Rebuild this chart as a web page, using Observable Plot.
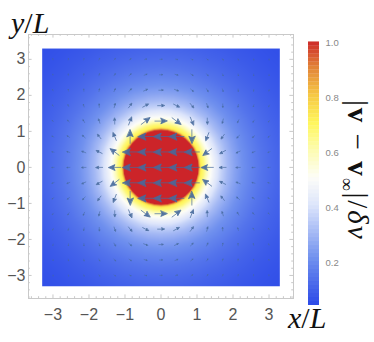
<!DOCTYPE html>
<html><head><meta charset="utf-8">
<script src="https://cdn.jsdelivr.net/npm/d3@7"></script>
<script src="https://cdn.jsdelivr.net/npm/@observablehq/plot@0.6"></script>
<style>
html,body{margin:0;padding:0;background:#fff}
#c{position:relative;width:374px;height:342px;overflow:hidden}
#c>svg,#c>div{position:absolute}
.m{font-family:"Liberation Serif",serif;font-style:italic;color:#111;white-space:nowrap;line-height:1}
.m span{font-style:normal;font-weight:normal}
.m b{font-style:normal;font-weight:bold}
.m sub{font-size:62%;font-style:normal;line-height:0}
</style></head><body><div id="c"></div>
<script>
// colour ramp
const rampLevels=[0.044,0.2,0.4,0.5,0.6,0.7,0.8,0.9,1];
const rampColors=["#2f4de8","#6d8eee","#dde5fb","#fdfdf8","#fdfcb0","#fff65c","#f6c844","#e28438","#cc2429"];
// radial samples of the heat field
const ringR=[0,0.6,1.0,1.03,1.055,1.08,1.11,1.2,1.26,1.34,1.44,1.56,1.7,1.85,2.05,2.25,2.5,2.8,3.1,3.4,3.8,4.2,4.8];
const ringLevel=[1,1,1,1,0.9,0.8,0.72,0.66,0.6,0.53,0.47,0.41,0.35,0.3,0.25,0.21,0.175,0.14,0.115,0.095,0.075,0.06,0.046];
const ringAngle=[0,10,20,30,40,50,60,70,80,90,100,110,120,130,140,150,160,170,180,190,200,210,220,230,240,250,260,270,280,290,300,310,320,330,340,350];
// arrow field, quadrant x>=0,y>=0, rows j=0..7, columns i=0..7
const arrowGrid=[0,0.4286,0.8571,1.2857,1.7143,2.1429,2.5714,3];
const arrowU=[
[-1,-1,-1,-.81,-.45,-.29,-.20,-.15],
[-1,-1,-1,-.58,-.38,-.26,-.19,-.14],
[-1,-1,0,-.21,-.22,-.18,-.15,-.12],
[.81,.58,.21,0,-.08,-.10,-.10,-.09],
[.45,.38,.22,.08,0,-.04,-.05,-.06],
[.29,.26,.18,.10,.04,0,-.02,-.03],
[.20,.19,.15,.10,.05,.02,0,-.01],
[.15,.14,.12,.09,.06,.03,.01,0]];
const arrowV=[
[0,0,0,0,0,0,0,0],
[0,0,0,-.44,-.20,-.11,-.06,-.04],
[0,0,-.91,-.52,-.29,-.17,-.11,-.07],
[0,-.44,-.52,-.40,-.28,-.19,-.13,-.09],
[0,-.20,-.29,-.28,-.23,-.17,-.13,-.10],
[0,-.11,-.17,-.19,-.17,-.15,-.12,-.09],
[0,-.06,-.11,-.13,-.13,-.12,-.10,-.08],
[0,-.04,-.07,-.09,-.10,-.09,-.08,-.07]];
const xTicks=[-3,-2,-1,0,1,2,3];
const minorTicks=[-3.6,-3.4,-3.2,-2.8,-2.6,-2.4,-2.2,-1.8,-1.6,-1.4,-1.2,-.8,-.6,-.4,-.2,.2,.4,.6,.8,1.2,1.4,1.6,1.8,2.2,2.4,2.6,2.8,3.2,3.4,3.6];
const barTicks=[0.2,0.4,0.6,0.8,1];

const xDom=[-3.68,3.68], yDom=[-3.64,3.69], ext=3.3;
const color={type:"linear",domain:rampLevels,range:rampColors,interpolate:"rgb"};

const heat=[];
ringR.forEach((r,k)=>ringAngle.forEach(a=>{
  heat.push({x:r*Math.cos(a*Math.PI/180),y:r*Math.sin(a*Math.PI/180),h:ringLevel[k]});
}));
const arrows=[];
arrowGrid.forEach((gy,j)=>arrowGrid.forEach((gx,i)=>{
  for(const sx of gx?[-1,1]:[1]) for(const sy of gy?[-1,1]:[1]){
    const u=arrowU[j][i], v=arrowV[j][i]*sx*sy;
    arrows.push({x:sx*gx,y:sy*gy,len:Math.hypot(u,v),rot:Math.atan2(u,v)*180/Math.PI});
  }
}));
const headShape={draw(ctx,l){
  const k=Math.min(0.52,0.2+l*0.03);
  const h=l*k,w=l*k*0.44;
  ctx.moveTo(0,0);ctx.lineTo(0,-l+h*0.8);
  ctx.moveTo(0,-l);ctx.lineTo(w,-l+h);ctx.lineTo(0,-l+h*0.8);ctx.lineTo(-w,-l+h);ctx.closePath();
}};
const gray="#c9c9c9";
const major=0.1, minor=0.05; // tick lengths in data units
const ticksOn=(list,len)=>[
  Plot.ruleX(list,{x:d=>d,y1:yDom[0],y2:yDom[0]+len,stroke:gray,strokeWidth:1}),
  Plot.ruleX(list,{x:d=>d,y1:yDom[1],y2:yDom[1]-len,stroke:gray,strokeWidth:1}),
  Plot.ruleY(list,{y:d=>d,x1:xDom[0],x2:xDom[0]+len,stroke:gray,strokeWidth:1}),
  Plot.ruleY(list,{y:d=>d,x1:xDom[1],x2:xDom[1]-len,stroke:gray,strokeWidth:1})
];
const alpha=d=>Math.min(0.92,0.4+d.len*1.1);
const main=Plot.plot({
  width:374,height:342,marginLeft:28,marginRight:81,marginTop:34,marginBottom:44,
  style:{background:"transparent",overflow:"visible"},
  x:{domain:xDom,label:null},y:{domain:yDom,label:null},
  color,
  opacity:{type:"identity"},
  length:{type:"linear",domain:[0,1],range:[0,15]},
  marks:[
    Plot.raster(heat,{x:"x",y:"y",fill:"h",interpolate:"barycentric",x1:-ext,x2:ext,y1:-ext,y2:ext,pixelSize:1,imageRendering:"auto"}),
    Plot.vector(arrows,{x:"x",y:"y",length:"len",rotate:"rot",anchor:"middle",shape:headShape,fill:"#466a9c",stroke:"#466a9c",strokeWidth:0.75,strokeOpacity:alpha,fillOpacity:alpha,strokeLinejoin:"miter"}),
    Plot.frame({stroke:gray,strokeWidth:1}),
    ...ticksOn(xTicks,major),
    ...ticksOn(minorTicks,minor),
    Plot.axisX(xTicks,{anchor:"bottom",tickSize:0,tickPadding:10,fontSize:16,fill:"#555",fontFamily:"Liberation Sans",tickFormat:d=>d<0?"\u2212"+(-d):""+d}),
    Plot.axisY(xTicks,{anchor:"left",tickSize:0,tickPadding:3,fontSize:16,fill:"#555",fontFamily:"Liberation Sans",tickFormat:d=>d<0?"\u2212"+(-d):""+d})
  ]
});
main.style.left="0";main.style.top="0";
document.getElementById("c").append(main);

const barLevels=d3.range(0.044,1,0.0145);
const bar=Plot.plot({
  width:60,height:342,marginLeft:8,marginRight:41,marginTop:42,marginBottom:37,
  style:{background:"transparent"},
  x:{domain:[0,1],axis:null},y:{domain:[0.044,1],label:null},
  color,
  marks:[
    Plot.rect(barLevels,{x1:0,x2:1,y1:d=>d,y2:d=>d+0.0155,fill:d=>d}),
    Plot.axisY(barTicks,{anchor:"right",tickSize:0,tickPadding:6,fontSize:9.5,fill:"#888",fontFamily:"Liberation Sans",tickFormat:d3.format(".1f")})
  ]
});
bar.style.left="300px";bar.style.top="0";
document.getElementById("c").append(bar);

function label(html,css){const e=document.createElement("div");e.className="m";e.innerHTML=html;Object.assign(e.style,css);document.getElementById("c").append(e);}
label('y<span>/</span>L',{left:"11px",top:"8px",fontSize:"30px"});
label('x<span>/</span>L',{left:"288px",top:"303px",fontSize:"30px"});
label('<span>|</span><b>v</b> <span>\u2212</span> <b>v</b><sub>\u221e</sub><span>|/</span>\u03b4v',{left:"372px",top:"100px",fontSize:"29px",letterSpacing:"2px",transformOrigin:"0 0",transform:"rotate(90deg)"});
</script></body></html>
